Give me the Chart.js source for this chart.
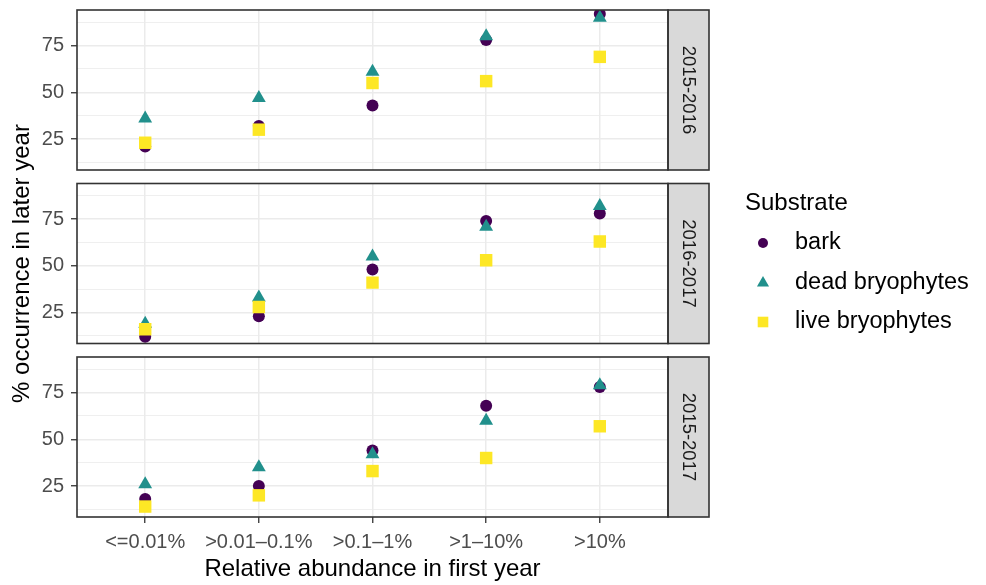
<!DOCTYPE html>
<html>
<head>
<meta charset="utf-8">
<script src="https://cdn.jsdelivr.net/npm/chart.js@4"></script>
<style>
  html, body { margin: 0; padding: 0; background: #fff; }
  #wrap { position: relative; width: 986px; height: 585px; }
  #wrap canvas { position: absolute; left: 0; top: 0; }
</style>
</head>
<body>
<div id="wrap">
  <canvas id="panel1" width="986" height="585"></canvas>
  <canvas id="panel2" width="986" height="585"></canvas>
  <canvas id="panel3" width="986" height="585"></canvas>
</div>
<script>
// categories (x) and facets
const categories = ['<=0.01%', '>0.01–0.1%', '>0.1–1%', '>1–10%', '>10%'];
const facets = ['2015-2016', '2016-2017', '2015-2017'];
const substrates = ['bark', 'dead bryophytes', 'live bryophytes'];
const yTickLabels = [25, 50, 75];
const yGridValues = [12.5, 25, 37.5, 50, 62.5, 75, 87.5];

// % occurrence in later year
const bark_2015_2016 = [21, 32, 43, 78, 92];
const dead_2015_2016 = [36, 47, 61, 80, 90];
const live_2015_2016 = [23, 30, 55, 56, 69];

const bark_2016_2017 = [12, 23, 48, 74, 78];
const dead_2016_2017 = [19, 33, 55, 71, 82];
const live_2016_2017 = [16, 28, 41, 53, 63];

const bark_2015_2017 = [18, 25, 44, 68, 78];
const dead_2015_2017 = [26, 35, 42, 60, 79];
const live_2015_2017 = [14, 20, 33, 40, 57];

const facetData = [
    [bark_2015_2016, dead_2015_2016, live_2015_2016],
    [bark_2016_2017, dead_2016_2017, live_2016_2017],
    [bark_2015_2017, dead_2015_2017, live_2015_2017]
];

// styles
const colors = ['#440154', '#21908C', '#FDE725'];
const shapes = ['circle', 'triangle', 'rect'];
const radii = [6, 8, 8.8];
const legendRadii = [5, 7, 7.5];

const W = 986, H = 585;
const plotLeft = 77, plotRight = 668, stripW = 41;
const panelBox = [[10, 170], [183.5, 343.5], [357, 517]];

Chart.defaults.font.family = '"Liberation Sans", Arial, sans-serif';
Chart.defaults.color = '#4D4D4D';

// cadre du panneau + bandeau gris à droite
const facetFrame = {
    id: 'facetFrame',
    afterDraw(chart, args, opts) {
        const ctx = chart.ctx;
        const a = chart.chartArea;
        ctx.save();
        // strip
        ctx.fillStyle = '#D9D9D9';
        ctx.fillRect(a.right, a.top, stripW, a.bottom - a.top);
        ctx.strokeStyle = '#333333';
        ctx.lineWidth = 1.6;
        ctx.strokeRect(a.right, a.top, stripW, a.bottom - a.top);
        ctx.strokeRect(a.left, a.top, a.right - a.left, a.bottom - a.top);
        ctx.translate(a.right + stripW / 2, (a.top + a.bottom) / 2);
        ctx.rotate(Math.PI / 2);
        ctx.fillStyle = '#1A1A1A';
        ctx.font = '18.5px "Liberation Sans", Arial, sans-serif';
        ctx.textAlign = 'center';
        ctx.textBaseline = 'middle';
        ctx.fillText(opts.label, 0, 0);
        ctx.restore();
    }
};

// légende dessinée à la main (ggplot style)
const substrateLegend = {
    id: 'substrateLegend',
    afterDraw(chart, args, opts) {
        if (!opts.show) return;
        const ctx = chart.ctx;
        ctx.save();
        ctx.fillStyle = '#000';
        ctx.font = '24px "Liberation Sans", Arial, sans-serif';
        ctx.textAlign = 'left';
        ctx.textBaseline = 'middle';
        ctx.fillText('Substrate', 745, 203);
        const rows = [243, 283, 322];
        chart.data.datasets.forEach((ds, i) => {
            ctx.fillStyle = ds.pointBackgroundColor;
            Chart.helpers.drawPoint(ctx, {
                pointStyle: ds.pointStyle,
                radius: legendRadii[i],
                rotation: 0,
                borderWidth: 0
            }, 763, rows[i]);
            ctx.fillStyle = '#000';
            ctx.font = '23.5px "Liberation Sans", Arial, sans-serif';
            ctx.fillText(ds.label, 795, rows[i]);
        });
        ctx.restore();
    }
};

function makePanel(canvasId, idx) {
    const isBottom = idx === 2;
    const isMiddle = idx === 1;
    const top = panelBox[idx][0];
    const bottom = panelBox[idx][1];

    const datasets = substrates.map((name, s) => ({
        label: name,
        data: facetData[idx][s].map((v, i) => ({ x: i + 1, y: v })),
        showLine: false,
        pointStyle: shapes[s],
        pointRadius: radii[s],
        pointHoverRadius: radii[s],
        pointBackgroundColor: colors[s],
        pointBorderColor: colors[s],
        pointBorderWidth: 0,
        order: 3 - s,
        clip: 0
    }));

    new Chart(document.getElementById(canvasId).getContext('2d'), {
        type: 'line',
        data: { datasets: datasets },
        plugins: [facetFrame, substrateLegend],
        options: {
            responsive: false,
            animation: false,
            events: [],
            layout: {
                padding: {
                    left: 0,
                    top: top,
                    right: W - plotRight,
                    bottom: isBottom ? 0 : H - bottom
                }
            },
            plugins: {
                legend: { display: false },
                tooltip: { enabled: false },
                facetFrame: { label: facets[idx] },
                substrateLegend: { show: isMiddle }
            },
            scales: {
                x: {
                    type: 'linear',
                    min: 0.4,
                    max: 5.6,
                    afterBuildTicks: scale => {
                        scale.ticks = categories.map((c, i) => ({ value: i + 1 }));
                    },
                    ticks: {
                        display: isBottom,
                        autoSkip: false,
                        maxRotation: 0,
                        padding: 7,
                        color: '#4D4D4D',
                        font: { size: 20 },
                        callback: v => categories[v - 1]
                    },
                    grid: {
                        color: '#EBEBEB',
                        lineWidth: 1.5,
                        drawTicks: isBottom,
                        tickLength: 6,
                        tickColor: '#333333',
                        tickWidth: 1.3
                    },
                    border: { display: false },
                    title: {
                        display: isBottom,
                        text: 'Relative abundance in first year',
                        color: '#000',
                        font: { size: 24 },
                        padding: { top: 0, bottom: 1 }
                    },
                    afterFit: scale => {
                        scale.height = isBottom ? H - bottom : 0;
                        scale.paddingLeft = 0;
                        scale.paddingRight = 0;
                    }
                },
                y: {
                    min: 8.4,
                    max: 94.1,
                    afterBuildTicks: scale => {
                        scale.ticks = yGridValues.map(v => ({ value: v }));
                    },
                    ticks: {
                        autoSkip: false,
                        padding: 7,
                        color: '#4D4D4D',
                        font: { size: 20 },
                        callback: v => yTickLabels.includes(v) ? String(v) : ''
                    },
                    grid: {
                        color: '#EBEBEB',
                        lineWidth: c => yTickLabels.includes(c.tick.value) ? 1.5 : 0.8,
                        tickLength: 6,
                        tickWidth: 1.3,
                        tickColor: c => yTickLabels.includes(c.tick.value) ? '#333333' : 'rgba(0,0,0,0)'
                    },
                    border: { display: false },
                    title: {
                        display: isMiddle,
                        text: '% occurrence in later year',
                        color: '#000',
                        font: { size: 24 },
                        padding: { top: 8, bottom: 0 }
                    },
                    afterFit: scale => {
                        scale.width = plotLeft;
                        scale.paddingTop = 0;
                        scale.paddingBottom = 0;
                    }
                }
            }
        }
    });
}

makePanel('panel1', 0);
makePanel('panel2', 1);
makePanel('panel3', 2);
</script>
</body>
</html>
